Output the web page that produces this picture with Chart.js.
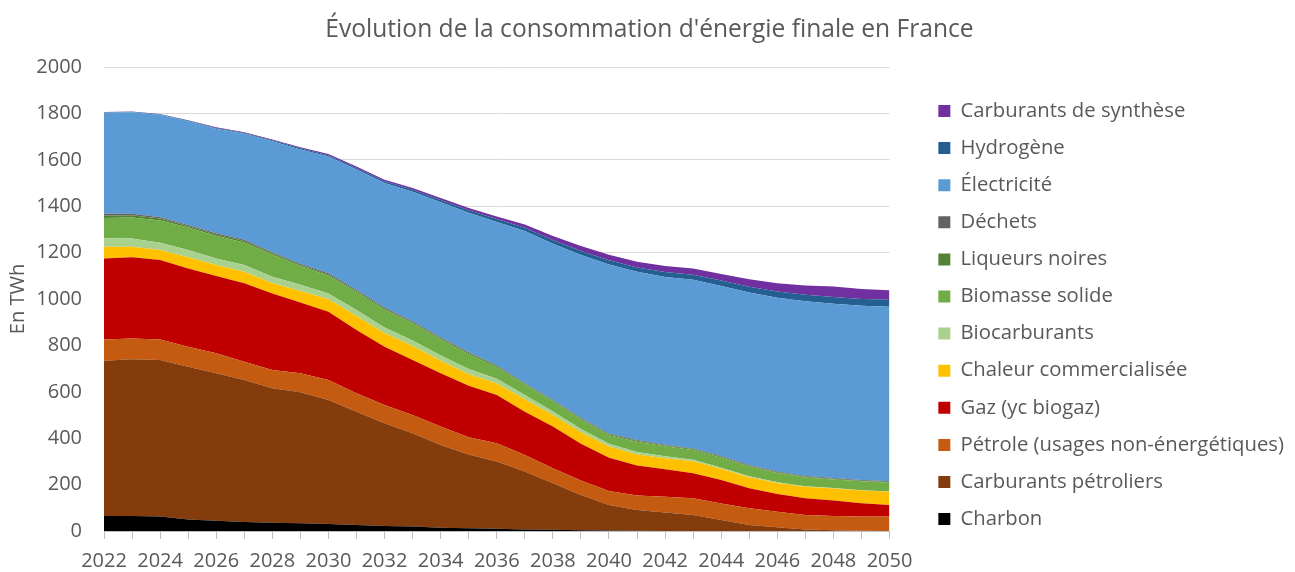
<!DOCTYPE html>
<html>
<head>
<meta charset="utf-8">
<script src="https://cdn.jsdelivr.net/npm/chart.js@4.4.1/dist/chart.umd.min.js"></script>
<style>
  body { margin: 0; background: #fff; }
  #wrap { width: 1295px; height: 572px; }
</style>
</head>
<body>
<div id="wrap"><canvas id="myChart" width="1295" height="572"></canvas></div>
<script>
const annees = []
for (let a = 2022; a <= 2050; a++) annees.push(String(a))

// valeurs en TWh (de bas en haut de la pile)
const charbon = [65, 65, 62, 50, 44, 39, 36, 33, 30, 26, 22, 19, 14, 12, 10, 7, 5, 3, 2, 1, 0, 0, 0, 0, 0, 0, 0, 0, 0]
const carburantsPetroliers = [669, 675, 675, 658, 636, 612, 579, 565, 535, 488, 442, 402, 357, 318, 290, 249, 201, 152, 110, 90, 80, 69, 47, 26, 16, 7, 3, 1, 0]
const petroleNonEnergetique = [92, 90, 89, 86, 86, 79, 79, 82, 86, 80, 79, 79, 79, 74, 78, 72, 64, 63, 60, 62, 68, 72, 72, 72, 67, 62, 62, 62, 62]
const gaz = [349, 350, 342, 338, 333, 338, 330, 305, 294, 272, 251, 237, 230, 222, 208, 186, 180, 158, 144, 129, 118, 108, 101, 86, 76, 72, 66, 57, 50]
const chaleur = [50, 45, 43, 48, 48, 50, 44, 50, 54, 61, 58, 60, 54, 50, 50, 54, 50, 50, 48, 48, 48, 52, 48, 48, 48, 50, 52, 55, 57]
const biocarburants = [37, 36, 32, 31, 28, 29, 28, 27, 25, 26, 25, 24, 22, 22, 20, 18, 15, 14, 12, 10, 8, 6, 5, 4, 3, 2, 2, 1, 1]
const biomasse = [87, 90, 95, 97, 97, 97, 96, 80, 76, 77, 77, 74, 71, 64, 50, 45, 43, 41, 37, 45, 43, 42, 43, 42, 40, 38, 37, 38, 38]
const liqueursNoires = [10, 10, 9, 7, 6, 6, 6, 6, 6, 6, 5, 5, 5, 5, 5, 4, 4, 4, 4, 4, 4, 4, 4, 3, 3, 3, 3, 3, 3]
const dechets = [8, 7, 5, 4, 5, 5, 4, 4, 5, 4, 4, 4, 3, 3, 3, 3, 3, 3, 3, 3, 3, 3, 3, 3, 3, 3, 3, 3, 3]
const electricite = [436, 437, 442, 447, 451, 457, 478, 493, 503, 518, 537, 558, 582, 602, 618, 655, 673, 702, 729, 725, 723, 727, 733, 744, 749, 753, 752, 751, 753]
const hydrogene = [2, 2, 2, 3, 3, 4, 4, 5, 6, 7, 8, 9, 10, 11, 13, 14, 16, 17, 18, 19, 21, 22, 24, 25, 27, 28, 29, 29, 30]
const carburantsSynthese = [1, 1, 2, 2, 3, 3, 4, 4, 5, 6, 6, 7, 8, 9, 11, 14, 18, 21, 24, 25, 26, 27, 28, 32, 36, 40, 45, 43, 41]

const series = [
    { label: 'Charbon', data: charbon, color: '#000000' },
    { label: 'Carburants pétroliers', data: carburantsPetroliers, color: '#843C0C' },
    { label: 'Pétrole (usages non-énergétiques)', data: petroleNonEnergetique, color: '#C55A11' },
    { label: 'Gaz (yc biogaz)', data: gaz, color: '#C00000' },
    { label: 'Chaleur commercialisée', data: chaleur, color: '#FFC000' },
    { label: 'Biocarburants', data: biocarburants, color: '#A9D18E' },
    { label: 'Biomasse solide', data: biomasse, color: '#70AD47' },
    { label: 'Liqueurs noires', data: liqueursNoires, color: '#548235' },
    { label: 'Déchets', data: dechets, color: '#636363' },
    { label: 'Électricité', data: electricite, color: '#5B9BD5' },
    { label: 'Hydrogène', data: hydrogene, color: '#255E91' },
    { label: 'Carburants de synthèse', data: carburantsSynthese, color: '#7030A0' }
]

const police = '"Open Sans", sans-serif'
const gris = '#595959'

// élargit la légende puis la décale, pour laisser un blanc à sa gauche
const margeLegende = {
    id: 'margeLegende',
    beforeInit(chart) {
        const fitOrig = chart.legend.fit
        chart.legend.fit = function () {
            fitOrig.call(this)
            this.width += 33
        }
    },
    afterLayout(chart) {
        chart.legend.left += 32
    }
}

const ctx = document.getElementById('myChart').getContext('2d')
const myChart = new Chart(ctx, {
    type: 'line',
    data: {
        labels: annees,
        datasets: series.map((s, i) => ({
            label: s.label,
            data: s.data,
            backgroundColor: s.color,
            borderColor: s.color,
            borderWidth: 0,
            pointRadius: 0,
            tension: 0,
            fill: i === 0 ? 'origin' : '-1'
        }))
    },
    plugins: [margeLegende],
    options: {
        responsive: false,
        animation: false,
        layout: { padding: { left: 4, right: 0, top: 0, bottom: 1 } },
        plugins: {
            title: {
                display: true,
                text: "Évolution de la consommation d'énergie finale en France",
                color: gris,
                font: { family: police, size: 24.6, weight: 'normal' },
                padding: { top: 15, bottom: 22.5 }
            },
            legend: {
                position: 'right',
                reverse: true,
                maxWidth: 460,
                // titre vide : sert seulement à descendre les entrées
                title: { display: true, text: '', font: { size: 12 }, padding: { top: 0, bottom: 44.7 } },
                labels: {
                    boxWidth: 12,
                    boxHeight: 12,
                    padding: 16.8,
                    color: gris,
                    font: { family: police, size: 20.3 }
                }
            },
            tooltip: { enabled: false }
        },
        scales: {
            x: {
                offset: false,
                afterFit: function (scale) { scale.height = 40 },
                grid: { drawOnChartArea: false, drawTicks: true, tickLength: 8, color: '#bfbfbf' },
                border: { color: '#bfbfbf' },
                ticks: {
                    autoSkip: false,
                    maxRotation: 0,
                    color: gris,
                    font: { family: police, size: 20, lineHeight: 1 },
                    padding: 12,
                    callback: function (v, i) { return i % 2 === 0 ? annees[i] : '' }
                }
            },
            y: {
                stacked: true,
                min: 0,
                max: 2000,
                afterFit: function (scale) { scale.width = 100 },
                ticks: {
                    stepSize: 200,
                    color: gris,
                    font: { family: police, size: 20 },
                    padding: 22,
                    callback: function (v) { return String(v) }
                },
                grid: { color: '#d9d9d9', drawTicks: false },
                border: { display: false },
                title: { display: true, text: 'En TWh', color: gris, font: { family: police, size: 20 }, padding: { top: 2, bottom: 6 } }
            }
        }
    }
})
</script>
</body>
</html>
